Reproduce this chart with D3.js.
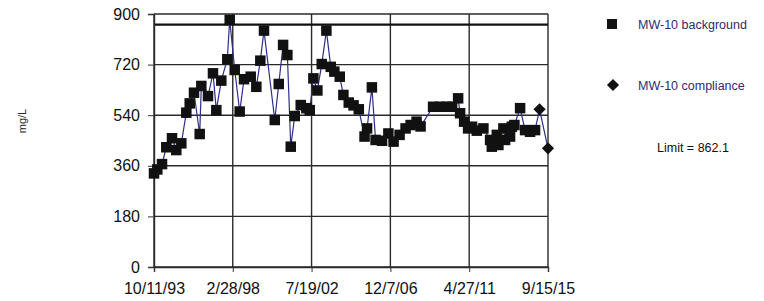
<!DOCTYPE html>
<html>
<head>
<meta charset="utf-8">
<script src="https://cdn.jsdelivr.net/npm/d3@7"></script>
<style>
  body { margin: 0; background: #fff; }
  svg text { font-family: "Liberation Sans", Arial, sans-serif; }
</style>
</head>
<body>
<svg id="chart" width="764" height="301"></svg>
<script>
// MW-10 background samples (date, mg/L)
var bgDates = ["1993-10-11","1993-12-17","1994-03-23","1994-06-18","1994-10-12","1995-01-07","1995-04-19",
  "1995-07-30","1995-10-07","1996-01-02","1996-04-27","1996-05-30","1996-10-13","1997-01-22","1997-03-31",
  "1997-07-10","1997-11-09","1997-12-28","1998-04-09","1998-07-19","1998-10-15","1999-02-28","1999-06-22",
  "1999-09-11","1999-11-25","2000-07-01","2000-09-20","2000-12-17","2001-03-14","2001-05-22","2001-08-11",
  "2001-12-11","2002-04-04","2002-06-12","2002-08-25","2002-11-14","2003-02-11","2003-05-16","2003-08-13",
  "2003-10-25","2004-02-12","2004-04-26","2004-08-13","2004-11-19","2005-03-05","2005-06-30","2005-08-20",
  "2005-11-26","2006-02-09","2006-06-21","2006-10-27","2007-02-10","2007-06-12","2007-10-12","2008-01-22",
  "2008-05-23","2008-08-12","2009-04-23","2009-09-12","2010-01-23","2010-05-15","2010-09-14","2010-10-24",
  "2011-01-14","2011-04-05","2011-06-25","2011-09-29","2012-02-10","2012-06-25","2012-07-30","2012-11-08",
  "2012-12-11","2013-03-22","2013-04-26","2013-08-05","2013-09-09","2013-11-01","2014-02-25","2014-06-06",
  "2014-09-16","2014-12-26"];
var bgValues = [333,347,366,426,458,416,440,
  549,582,620,473,644,608,689,558,
  663,739,879,701,553,668,677,641,
  734,841,523,651,790,754,428,537,
  576,565,558,671,628,722,841,712,
  695,677,612,585,575,561,464,493,
  639,452,449,475,446,470,493,505,
  517,500,570,570,570,570,600,547,
  517,493,499,485,493,452,428,470,
  434,493,452,464,499,505,565,487,
  481,487];

// MW-10 compliance samples
var compDates = ["2015-03-27","2015-09-15"];
var compValues = [561,422];

var limitValue = 862.1;
var yTicks = [0,180,360,540,720,900];
var xTickDates = ["1993-10-11","1998-02-28","2002-07-19","2006-12-07","2011-04-27","2015-09-15"];

var parseDate = d3.timeParse("%Y-%m-%d");
var formatTick = function(d){ return (d.getMonth()+1) + "/" + d.getDate() + "/" + d3.timeFormat("%y")(d); };

var bgData = bgDates.map(function(d, i){ return {date: parseDate(d), value: bgValues[i]}; });
var compData = compDates.map(function(d, i){ return {date: parseDate(d), value: compValues[i]}; });
var xTicks = xTickDates.map(parseDate);

var margin = {left: 154, top: 14};
var width = 394, height = 253;

var svg = d3.select("#chart");
var g = svg.append("g").attr("transform", "translate(" + margin.left + "," + margin.top + ")");

var x = d3.scaleTime().domain([xTicks[0], xTicks[xTicks.length-1]]).range([0, width]);
var y = d3.scaleLinear().domain([0, 900]).range([height, 0]);

// horizontal grid
g.selectAll(".hgrid")
  .data(yTicks)
  .enter()
  .append("line")
  .attr("x1", 0).attr("x2", width)
  .attr("y1", function(d){ return y(d); })
  .attr("y2", function(d){ return y(d); })
  .style("stroke", "#2a2a2a").style("stroke-width", 1.4);

// vertical grid
g.selectAll(".vgrid")
  .data(xTicks)
  .enter()
  .append("line")
  .attr("x1", function(d){ return x(d); })
  .attr("x2", function(d){ return x(d); })
  .attr("y1", 0).attr("y2", height)
  .style("stroke", "#2a2a2a").style("stroke-width", 1.4);

// limit line
g.append("line")
  .attr("x1", 0).attr("x2", width)
  .attr("y1", y(limitValue)).attr("y2", y(limitValue))
  .style("stroke", "#111").style("stroke-width", 2.2);

// axes
var yAxis = d3.axisLeft(y).tickValues(yTicks).tickSize(6).tickPadding(8);
g.append("g").call(yAxis)
  .call(function(s){
    s.select(".domain").style("stroke", "#2a2a2a").style("stroke-width", 1.4);
    s.selectAll("line").style("stroke", "#333");
    s.selectAll("text").style("font-size", "16px").style("fill", "#111");
  });

var xAxis = d3.axisBottom(x).tickValues(xTicks).tickFormat(formatTick).tickSize(5).tickPadding(11);
g.append("g").attr("transform", "translate(0," + height + ")").call(xAxis)
  .call(function(s){
    s.select(".domain").style("stroke", "#2a2a2a").style("stroke-width", 1.4);
    s.selectAll("line").style("stroke", "#333");
    s.selectAll("text").style("font-size", "16px").style("fill", "#111");
  });

// series lines
var line = d3.line()
  .x(function(d){ return x(d.date); })
  .y(function(d){ return y(d.value); });

g.append("path")
  .datum(bgData)
  .attr("d", line)
  .style("fill", "none").style("stroke", "#2e2e8a").style("stroke-width", 1.2);

// compliance line picks up from the last background sample
g.append("path")
  .datum([bgData[bgData.length-1]].concat(compData))
  .attr("d", line)
  .style("fill", "none").style("stroke", "#2e2e8a").style("stroke-width", 1.2);

// markers
var sq = 10.5;
g.selectAll(".bg")
  .data(bgData)
  .enter()
  .append("rect")
  .attr("class", "bg")
  .attr("x", function(d){ return x(d.date) - sq/2; })
  .attr("y", function(d){ return y(d.value) - sq/2; })
  .attr("width", sq).attr("height", sq)
  .style("fill", "#111");

var diamond = d3.symbol().type(d3.symbolDiamond2).size(95);
g.selectAll(".comp")
  .data(compData)
  .enter()
  .append("path")
  .attr("class", "comp")
  .attr("transform", function(d){ return "translate(" + x(d.date) + "," + y(d.value) + ")"; })
  .attr("d", diamond)
  .style("fill", "#111");

// y label
svg.append("text")
  .attr("transform", "translate(26,121) rotate(-90)")
  .attr("text-anchor", "middle")
  .style("font-size", "11px").style("fill", "#222")
  .text("mg/L");

// legend
var legend = svg.append("g").attr("transform", "translate(612,0)");
legend.append("rect").attr("x", -5).attr("y", 19).attr("width", 10).attr("height", 10).style("fill", "#111");
legend.append("text").attr("x", 26).attr("y", 28.5)
  .style("font-size", "12.5px").style("fill", "#2c2c6e").text("MW-10 background");
legend.append("path").attr("transform", "translate(1,85)").attr("d", diamond).style("fill", "#111");
legend.append("text").attr("x", 26).attr("y", 89.5)
  .style("font-size", "12.5px").style("fill", "#2c2c6e").text("MW-10 compliance");
legend.append("text").attr("x", 45).attr("y", 151.5)
  .style("font-size", "12.5px").style("fill", "#111").text("Limit = " + limitValue);
</script>
</body>
</html>
